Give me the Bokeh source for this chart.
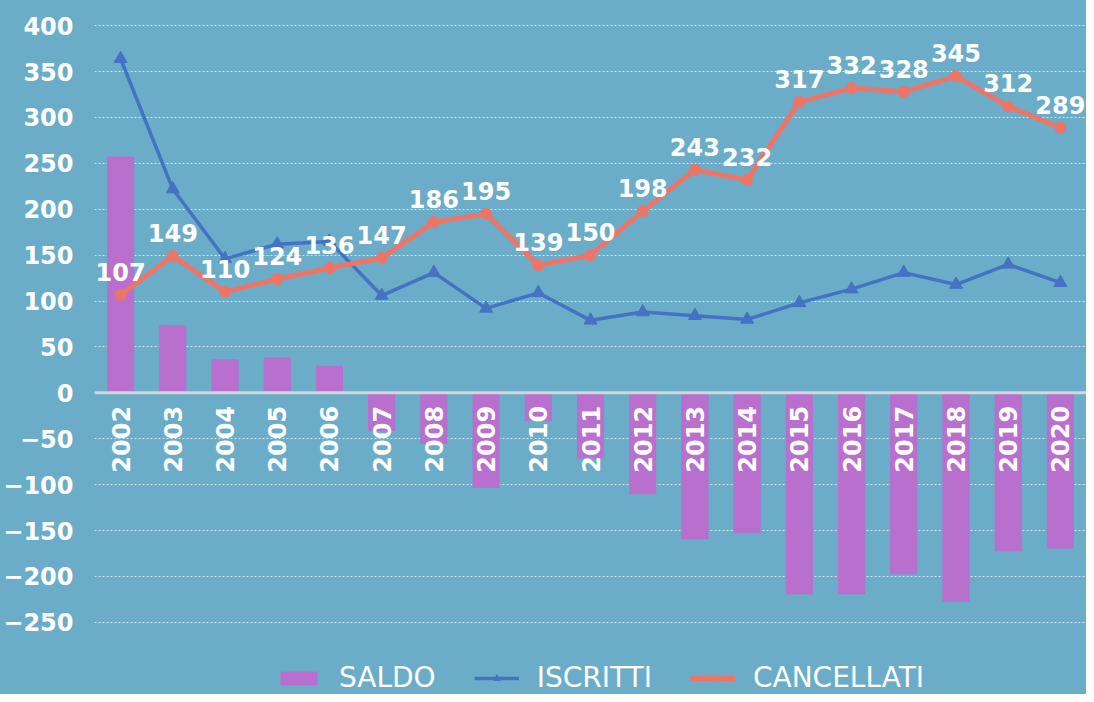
from math import pi
from bokeh.plotting import figure
from bokeh.models import ColumnDataSource, FactorRange, Range1d, FixedTicker, Span
from bokeh.core.properties import value
from bokeh.embed import file_html
from bokeh.resources import INLINE

years = [str(y) for y in range(2002, 2021)]
saldo = [257, 73, 36, 38, 29, -41, -55, -103, -30, -71, -110, -159, -152, -219, -219, -197, -227, -172, -169]
iscritti = [364, 222, 146, 162, 165, 106, 131, 92, 109, 79, 88, 84, 80, 98, 113, 131, 118, 140, 120]
cancellati = [107, 149, 110, 124, 136, 147, 186, 195, 139, 150, 198, 243, 232, 317, 332, 328, 345, 312, 289]
y_ticks = list(range(-250, 401, 50))

BG = "#6badc8"
PURPLE = "#b86fcd"
BLUE = "#4472c4"
RED = "#ee7566"
FONT = "DejaVu Sans"

src = ColumnDataSource(dict(
    year=years, saldo=saldo, iscritti=iscritti, cancellati=cancellati,
    lab=[str(v) for v in cancellati], zero=[0] * len(years),
))

p = figure(width=1086, height=694, x_range=FactorRange(*years, range_padding=0),
           y_range=Range1d(-328.6, 410), output_backend="svg", toolbar_location=None,
           min_border_left=93, min_border_right=0, min_border_top=16, min_border_bottom=0)
p.styles = {"background-color": BG}
p.background_fill_color = BG
p.border_fill_color = BG
p.outline_line_color = None

p.xaxis.visible = False
p.xgrid.grid_line_color = None
p.yaxis.ticker = FixedTicker(ticks=y_ticks)
p.ygrid.ticker = FixedTicker(ticks=y_ticks)
p.ygrid.grid_line_color = "#e8eef2"
p.ygrid.grid_line_alpha = 0.85
p.ygrid.grid_line_dash = "2 2"
p.ygrid.grid_line_width = 1
p.yaxis.axis_line_color = None
p.yaxis.major_tick_line_color = None
p.yaxis.minor_tick_line_color = None
p.yaxis.major_tick_out = 0
p.yaxis.major_tick_in = 0
p.yaxis.minor_tick_out = 0
p.yaxis.major_label_text_color = "white"
p.yaxis.major_label_text_font = FONT
p.yaxis.major_label_text_font_style = "bold"
p.yaxis.major_label_text_font_size = "24px"
p.yaxis.major_label_standoff = 21

p.vbar(x="year", top="saldo", width=0.5, source=src, color=PURPLE, legend_label="SALDO")
p.add_layout(Span(location=0, dimension="width", line_color="#d6d6d6", line_width=3))

p.line(x="year", y="iscritti", source=src, line_color=BLUE, line_width=3.5, legend_label="ISCRITTI")
p.scatter(x="year", y="iscritti", source=src, marker="triangle", size=13, color=BLUE, legend_label="ISCRITTI")

p.line(x="year", y="cancellati", source=src, line_color=RED, line_width=5, legend_label="CANCELLATI")
p.scatter(x="year", y="cancellati", source=src, marker="circle", size=11, color=RED, legend_label="CANCELLATI")

p.text(x="year", y="cancellati", text="lab", source=src, text_align="center", text_baseline="bottom",
       y_offset=-14, text_color="white", text_font=value(FONT), text_font_style="bold",
       text_font_size="24px")

p.text(x="year", y="zero", text="year", source=src, angle=pi / 2, text_align="right",
       text_baseline="middle", y_offset=13, text_color="white", text_font=value(FONT),
       text_font_style="bold", text_font_size="24px")

lg = p.legend[0]
lg.location = (182, 0)
lg.orientation = "horizontal"
lg.background_fill_alpha = 0
lg.border_line_alpha = 0
lg.label_text_color = "white"
lg.label_text_font = FONT
lg.label_text_font_size = "28px"
lg.glyph_width = 45
lg.glyph_height = 16
lg.spacing = 38
lg.margin = 0
lg.padding = 0
lg.label_standoff = 18

open("out.html", "w").write(file_html(p, INLINE))
